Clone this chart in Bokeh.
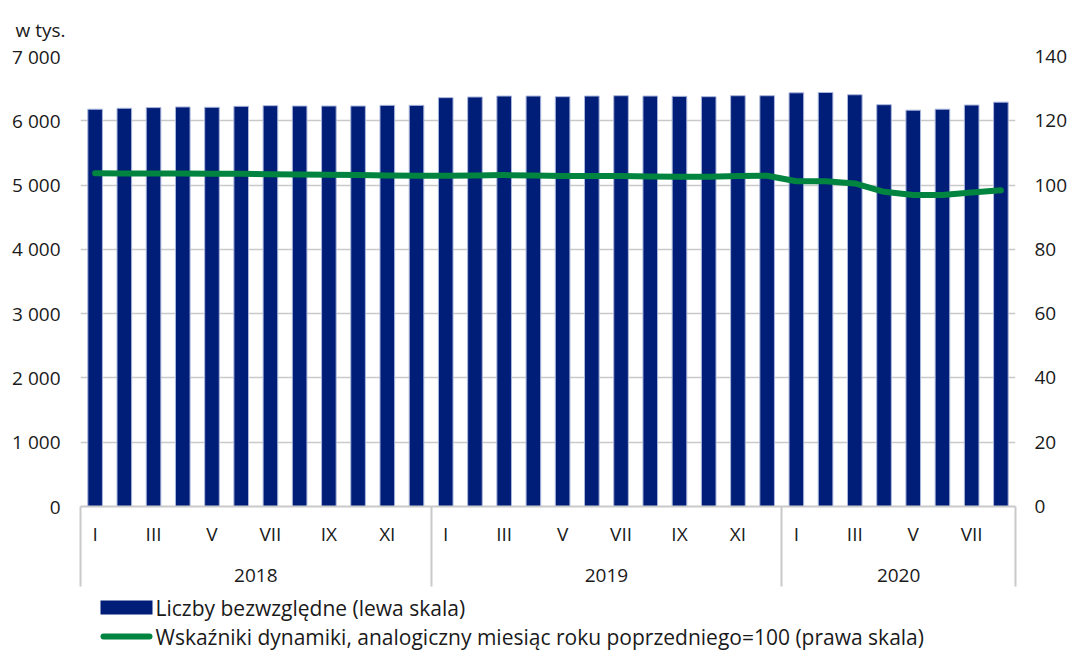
from bokeh.plotting import figure
from bokeh.models import ColumnDataSource, Range1d, LinearAxis, FixedTicker, Title
from bokeh.core.properties import value
from bokeh.layouts import column
from bokeh.embed import file_html
from bokeh.resources import INLINE

# ---- data ----
years = ["2018", "2019", "2020"]
months_per_year = [12, 12, 8]
month_names = ["I", "II", "III", "IV", "V", "VI", "VII", "VIII", "IX", "X", "XI", "XII"]

employment_2018 = [6180, 6195, 6205, 6215, 6210, 6225, 6235, 6230, 6230, 6230, 6240, 6240]
employment_2019 = [6360, 6370, 6385, 6385, 6375, 6385, 6390, 6385, 6380, 6375, 6390, 6390]
employment_2020 = [6435, 6440, 6405, 6250, 6165, 6180, 6245, 6290]

index_2018 = [103.7, 103.6, 103.6, 103.6, 103.5, 103.5, 103.4, 103.3, 103.2, 103.1, 103.0, 102.9]
index_2019 = [102.9, 103.0, 103.1, 103.0, 102.8, 102.8, 102.8, 102.7, 102.6, 102.6, 102.8, 102.9]
index_2020 = [101.2, 101.2, 100.5, 97.9, 96.9, 96.9, 97.7, 98.4]

left_ticks = [0, 1000, 2000, 3000, 4000, 5000, 6000, 7000]
left_labels = ["0", "1 000", "2 000", "3 000", "4 000", "5 000", "6 000", "7 000"]
right_ticks = [0, 20, 40, 60, 80, 100, 120, 140]

bar_label = "Liczby bezwzględne (lewa skala)"
line_label = "Wskaźniki dynamiki, analogiczny miesiąc roku poprzedniego=100 (prawa skala)"
unit_label = "w tys."

# ---- derived ----
values = employment_2018 + employment_2019 + employment_2020
indices = index_2018 + index_2019 + index_2020
month_lbl = []
for n in months_per_year:
    month_lbl += month_names[:n]
x = list(range(len(values)))
src = ColumnDataSource(dict(x=x, v=values, idx=indices))

FONT = "Open Sans"
FS = "19px"
LFS = "21px"
TXT = "#1a1a1a"
GRID = "#c9c9c9"
NAVY = "#001d77"
GREEN = "#00843f"
FW = 935          # frame width shared by both strips
BL, BR = 80, 50   # minimum side borders shared by both strips

p = figure(frame_width=FW, frame_height=450, output_backend="svg", toolbar_location=None,
           x_range=Range1d(-0.5, len(values) - 0.5), y_range=Range1d(0, 7000),
           min_border_left=BL, min_border_right=BR, min_border_top=56,
           min_border_bottom=86, outline_line_color=None)
p.extra_y_ranges = {"right": Range1d(0, 140)}

p.vbar(x="x", top="v", width=0.5, source=src, fill_color=NAVY,
       line_color="#aab6dc", line_width=1)
p.line(x="x", y="idx", source=src, y_range_name="right", line_color=GREEN,
       line_width=6, line_cap="round", line_join="round")

def style_vaxis(a, standoff):
    a.axis_line_color = None
    a.major_tick_line_color = None
    a.minor_tick_line_color = None
    a.major_tick_out = 0
    a.major_tick_in = 0
    a.minor_tick_out = 0
    a.minor_tick_in = 0
    a.major_label_standoff = standoff
    a.major_label_text_font = FONT
    a.major_label_text_font_size = FS
    a.major_label_text_color = TXT

ax = p.yaxis[0]
ax.ticker = FixedTicker(ticks=left_ticks)
ax.major_label_overrides = {t: l for t, l in zip(left_ticks, left_labels)}
style_vaxis(ax, 20)

rax = LinearAxis(y_range_name="right", ticker=FixedTicker(ticks=right_ticks))
style_vaxis(rax, 19)
p.add_layout(rax, "right")

p.xgrid.visible = False
p.ygrid.ticker = FixedTicker(ticks=left_ticks)
p.ygrid.grid_line_color = GRID
p.ygrid.grid_line_width = 1.5

# month axis with year separators drawn as long minor ticks
bounds = [-0.5]
centers = []
start = 0
for n in months_per_year:
    centers.append(start + (n - 1) / 2)
    start += n
    bounds.append(start - 0.5)
odd_ticks = [i for i in x if month_names.index(month_lbl[i]) % 2 == 0]
xax = p.xaxis[0]
xax.ticker = FixedTicker(ticks=odd_ticks, minor_ticks=bounds)
xax.major_label_overrides = {i: month_lbl[i] for i in odd_ticks}
xax.axis_line_color = GRID
xax.axis_line_width = 2
xax.major_tick_line_color = None
xax.major_tick_out = 0
xax.major_tick_in = 0
xax.minor_tick_out = 80
xax.minor_tick_in = 0
xax.minor_tick_line_color = GRID
xax.minor_tick_line_width = 2
xax.major_label_standoff = -66
xax.major_label_text_font = FONT
xax.major_label_text_font_size = FS
xax.major_label_text_color = TXT

yax = LinearAxis(ticker=FixedTicker(ticks=centers, minor_ticks=[]))
yax.major_label_overrides = {c: y for c, y in zip(centers, years)}
yax.axis_line_color = None
yax.major_tick_line_color = None
yax.minor_tick_line_color = None
yax.major_tick_out = 0
yax.major_tick_in = 0
yax.minor_tick_out = 0
yax.major_label_standoff = 19
yax.major_label_text_font = FONT
yax.major_label_text_font_size = FS
yax.major_label_text_color = TXT
p.add_layout(yax, "below")

p.add_layout(Title(text=unit_label, align="left", offset=-65, standoff=28,
                   text_font=FONT, text_font_size=FS, text_color=TXT,
                   text_font_style="normal"), "above")

# legend strip: x/y in pixels from the frame's top-left corner (same frame as chart)
LH = 58
lg = figure(frame_width=FW, frame_height=LH, output_backend="svg", toolbar_location=None,
            x_range=Range1d(0, FW), y_range=Range1d(LH, 0),
            x_axis_location=None, y_axis_location=None,
            min_border_left=BL, min_border_right=BR, min_border_top=0,
            min_border_bottom=0, outline_line_color=None)
lg.grid.visible = False
sw_x0, sw_w, sw_gap = 20, 52, 3
row_y = [15, 44]
lg.rect(x=[sw_x0 + sw_w / 2], y=[row_y[0]], width=[sw_w], height=[14],
        fill_color=NAVY, line_color=None)
lg.segment(x0=[sw_x0 + 3], x1=[sw_x0 + sw_w - 3], y0=[row_y[1]], y1=[row_y[1]],
           line_color=GREEN, line_width=6, line_cap="round")
lg.text(x=[sw_x0 + sw_w + sw_gap] * 2, y=row_y, text=[bar_label, line_label],
        text_baseline="middle", text_align="left", text_font=value(FONT),
        text_font_size=value(LFS), text_color=TXT)

open("out.html", "w").write(file_html(column(p, lg), INLINE))
